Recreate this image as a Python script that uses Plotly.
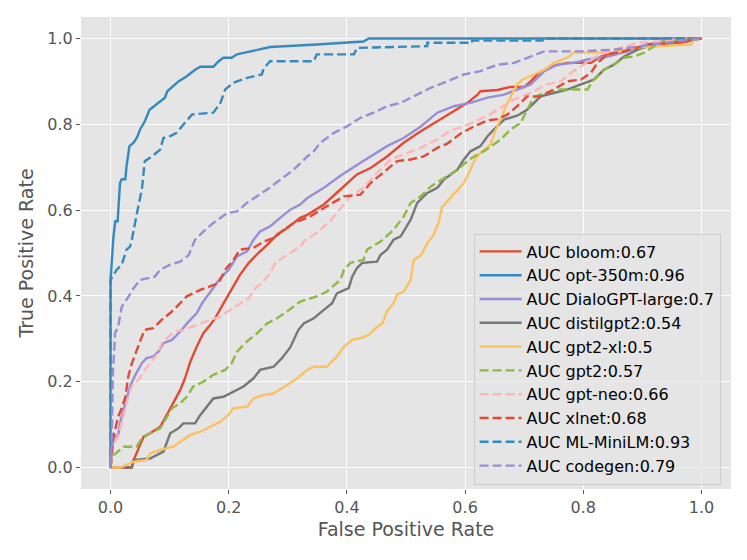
import plotly.graph_objects as go

# ROC curves (false positive rate, true positive rate)
models = ["bloom", "opt-350m", "DialoGPT-large", "distilgpt2", "gpt2-xl",
          "gpt2", "gpt-neo", "xlnet", "ML-MiniLM", "codegen"]
auc_values = [0.67, 0.96, 0.7, 0.54, 0.5, 0.57, 0.66, 0.68, 0.93, 0.79]

fpr_bloom = [0, 0.036, 0.039, 0.047, 0.056, 0.067, 0.084, 0.095, 0.104, 0.118, 0.126, 0.135,
             0.146, 0.157, 0.169, 0.177, 0.188, 0.200, 0.211, 0.219, 0.234, 0.250, 0.265, 0.282,
             0.299, 0.321, 0.333, 0.361, 0.389, 0.417, 0.440, 0.468, 0.496, 0.525, 0.553, 0.581,
             0.604, 0.621, 0.626, 0.655, 0.677, 0.700, 0.711, 0.725, 0.745, 0.773, 0.813, 0.830,
             0.852, 0.886, 0.920, 0.965, 1.0]
tpr_bloom = [0, 0, 0.0175, 0.045, 0.072, 0.080, 0.095, 0.1225, 0.146, 0.181, 0.208, 0.247,
             0.282, 0.313, 0.333, 0.348, 0.375, 0.403, 0.430, 0.449, 0.477, 0.500, 0.519, 0.543,
             0.558, 0.582, 0.589, 0.613, 0.648, 0.683, 0.698, 0.725, 0.757, 0.784, 0.807, 0.830,
             0.850, 0.869, 0.877, 0.880, 0.887, 0.887, 0.900, 0.920, 0.935, 0.943, 0.943, 0.958,
             0.967, 0.978, 0.986, 0.990, 1.0]

fpr_opt = [0, 0, 0.005, 0.008, 0.012, 0.016, 0.019, 0.025, 0.027, 0.032, 0.039, 0.045, 0.050,
           0.058, 0.066, 0.078, 0.092, 0.096, 0.105, 0.115, 0.129, 0.143, 0.152, 0.174, 0.183,
           0.191, 0.205, 0.214, 0.231, 0.248, 0.270, 0.349, 0.428, 0.437, 1.0]
tpr_opt = [0, 0.437, 0.539, 0.574, 0.574, 0.663, 0.672, 0.672, 0.702, 0.749, 0.757, 0.770, 0.788,
           0.807, 0.834, 0.846, 0.862, 0.877, 0.889, 0.900, 0.912, 0.927, 0.934, 0.934, 0.947,
           0.955, 0.955, 0.963, 0.968, 0.9725, 0.980, 0.986, 0.993, 1.0, 1.0]

fpr_dialo = [0, 0.005, 0.013, 0.016, 0.025, 0.033, 0.042, 0.053, 0.061, 0.0725, 0.081, 0.0895,
             0.104, 0.118, 0.132, 0.146, 0.155, 0.169, 0.186, 0.200, 0.214, 0.231, 0.242, 0.253,
             0.270, 0.287, 0.304, 0.321, 0.333, 0.361, 0.389, 0.417, 0.440, 0.468, 0.496, 0.525,
             0.553, 0.581, 0.609, 0.638, 0.666, 0.688, 0.711, 0.734, 0.756, 0.784, 0.807, 0.841,
             0.875, 0.909, 0.948, 1.0]
tpr_dialo = [0, 0.072, 0.075, 0.103, 0.150, 0.189, 0.216, 0.243, 0.255, 0.259, 0.270, 0.290,
             0.2975, 0.317, 0.340, 0.360, 0.383, 0.410, 0.4415, 0.461, 0.492, 0.504, 0.531, 0.550,
             0.562, 0.582, 0.601, 0.613, 0.628, 0.652, 0.680, 0.705, 0.725, 0.749, 0.768, 0.795,
             0.827, 0.842, 0.850, 0.862, 0.869, 0.881, 0.893, 0.924, 0.939, 0.943, 0.951, 0.958,
             0.970, 0.986, 0.998, 1.0]

fpr_distil = [0, 0.036, 0.039, 0.067, 0.078, 0.0895, 0.101, 0.115, 0.123, 0.143, 0.152, 0.163,
              0.174, 0.191, 0.208, 0.225, 0.242, 0.253, 0.276, 0.290, 0.304, 0.318, 0.327, 0.344,
              0.361, 0.375, 0.383, 0.403, 0.409, 0.417, 0.426, 0.451, 0.457, 0.468, 0.479, 0.491,
              0.508, 0.519, 0.536, 0.553, 0.564, 0.587, 0.598, 0.609, 0.626, 0.638, 0.649, 0.666,
              0.688, 0.705, 0.728, 0.750, 0.773, 0.796, 0.818, 0.835, 0.852, 0.869, 0.892, 0.920,
              0.960, 1.0]
tpr_distil = [0, 0, 0.0175, 0.021, 0.029, 0.037, 0.080, 0.0915, 0.103, 0.103, 0.1225, 0.142,
              0.161, 0.165, 0.177, 0.189, 0.208, 0.2275, 0.235, 0.255, 0.280, 0.321, 0.336, 0.348,
              0.3675, 0.383, 0.406, 0.418, 0.445, 0.465, 0.477, 0.480, 0.496, 0.508, 0.531, 0.539,
              0.578, 0.617, 0.640, 0.652, 0.671, 0.694, 0.718, 0.737, 0.749, 0.772, 0.788, 0.811,
              0.820, 0.834, 0.865, 0.873, 0.881, 0.893, 0.904, 0.927, 0.939, 0.958, 0.974, 0.986,
              0.993, 1.0]

fpr_xl = [0, 0.017, 0.039, 0.061, 0.067, 0.084, 0.106, 0.118, 0.135, 0.152, 0.169, 0.186, 0.197,
          0.208, 0.231, 0.242, 0.259, 0.276, 0.299, 0.316, 0.333, 0.344, 0.366, 0.372, 0.383,
          0.395, 0.409, 0.423, 0.437, 0.448, 0.460, 0.468, 0.479, 0.485, 0.496, 0.508, 0.513,
          0.525, 0.536, 0.547, 0.556, 0.561, 0.575, 0.587, 0.598, 0.609, 0.618, 0.626, 0.643,
          0.652, 0.660, 0.669, 0.677, 0.688, 0.697, 0.716, 0.734, 0.750, 0.773, 0.784, 0.852,
          0.886, 0.920, 0.982, 0.988, 1.0]
tpr_xl = [0, 0, 0.0135, 0.0175, 0.033, 0.041, 0.0485, 0.060, 0.076, 0.0835, 0.095, 0.107, 0.119,
          0.138, 0.142, 0.161, 0.169, 0.173, 0.1925, 0.208, 0.2275, 0.235, 0.235, 0.243, 0.259,
          0.282, 0.2975, 0.3015, 0.309, 0.325, 0.336, 0.364, 0.383, 0.403, 0.410, 0.4375, 0.484,
          0.494, 0.523, 0.543, 0.575, 0.607, 0.628, 0.648, 0.663, 0.694, 0.722, 0.733, 0.753,
          0.788, 0.811, 0.842, 0.865, 0.893, 0.904, 0.916, 0.927, 0.943, 0.955, 0.967, 0.967,
          0.978, 0.982, 0.986, 0.998, 1.0]

fpr_gpt2 = [0, 0.002, 0.022, 0.044, 0.053, 0.067, 0.084, 0.095, 0.104, 0.118, 0.129, 0.140,
            0.157, 0.174, 0.194, 0.205, 0.214, 0.231, 0.248, 0.265, 0.282, 0.299, 0.321, 0.349,
            0.366, 0.389, 0.395, 0.406, 0.428, 0.434, 0.457, 0.479, 0.496, 0.508, 0.525, 0.542,
            0.564, 0.587, 0.604, 0.615, 0.632, 0.660, 0.677, 0.694, 0.705, 0.716, 0.734, 0.762,
            0.807, 0.818, 0.835, 0.852, 0.869, 0.886, 0.903, 0.920, 0.937, 0.970, 1.0]
tpr_gpt2 = [0, 0.025, 0.0485, 0.0485, 0.068, 0.080, 0.0915, 0.119, 0.138, 0.150, 0.165, 0.189,
            0.200, 0.216, 0.2275, 0.243, 0.270, 0.294, 0.313, 0.336, 0.348, 0.364, 0.387, 0.399,
            0.410, 0.4375, 0.461, 0.477, 0.484, 0.508, 0.527, 0.554, 0.585, 0.617, 0.632, 0.655,
            0.675, 0.694, 0.714, 0.725, 0.737, 0.764, 0.788, 0.803, 0.834, 0.862, 0.873, 0.881,
            0.881, 0.904, 0.927, 0.939, 0.955, 0.958, 0.967, 0.982, 0.993, 0.998, 1.0]

fpr_neo = [0, 0.005, 0.013, 0.019, 0.027, 0.036, 0.047, 0.058, 0.070, 0.078, 0.087, 0.098,
           0.109, 0.126, 0.146, 0.169, 0.186, 0.203, 0.219, 0.234, 0.245, 0.259, 0.270, 0.279,
           0.299, 0.321, 0.327, 0.349, 0.372, 0.406, 0.428, 0.451, 0.474, 0.496, 0.525, 0.553,
           0.575, 0.598, 0.615, 0.638, 0.655, 0.683, 0.711, 0.739, 0.762, 0.779, 0.796, 0.813,
           0.835, 0.864, 0.892, 0.926, 0.965, 1.0]
tpr_neo = [0, 0.056, 0.072, 0.103, 0.150, 0.189, 0.204, 0.2275, 0.247, 0.2625, 0.290, 0.305,
           0.317, 0.321, 0.333, 0.344, 0.352, 0.368, 0.383, 0.395, 0.418, 0.434, 0.453, 0.477,
           0.496, 0.515, 0.527, 0.547, 0.575, 0.632, 0.652, 0.687, 0.718, 0.729, 0.745, 0.765,
           0.785, 0.795, 0.805, 0.820, 0.834, 0.858, 0.873, 0.893, 0.900, 0.920, 0.935, 0.951,
           0.967, 0.978, 0.990, 0.993, 0.998, 1.0]

fpr_xlnet = [0, 0.005, 0.013, 0.019, 0.025, 0.030, 0.036, 0.044, 0.053, 0.058, 0.0725, 0.0895,
             0.101, 0.115, 0.129, 0.152, 0.169, 0.183, 0.194, 0.208, 0.219, 0.242, 0.259, 0.276,
             0.293, 0.310, 0.338, 0.361, 0.395, 0.423, 0.440, 0.462, 0.485, 0.508, 0.530, 0.553,
             0.570, 0.592, 0.615, 0.638, 0.655, 0.672, 0.688, 0.705, 0.728, 0.750, 0.773, 0.796,
             0.813, 0.824, 0.841, 0.869, 0.909, 0.954, 0.982, 1.0]
tpr_xlnet = [0, 0.072, 0.119, 0.138, 0.165, 0.212, 0.243, 0.274, 0.305, 0.321, 0.325, 0.348,
             0.360, 0.379, 0.399, 0.414, 0.422, 0.430, 0.461, 0.484, 0.508, 0.512, 0.527, 0.535,
             0.554, 0.570, 0.585, 0.605, 0.632, 0.636, 0.663, 0.687, 0.714, 0.718, 0.725, 0.745,
             0.755, 0.778, 0.795, 0.809, 0.812, 0.823, 0.842, 0.865, 0.865, 0.881, 0.900, 0.904,
             0.920, 0.943, 0.963, 0.970, 0.986, 0.990, 0.998, 1.0]

fpr_minilm = [0, 0, 0.005, 0.0105, 0.019, 0.027, 0.033, 0.036, 0.047, 0.053, 0.058, 0.070, 0.084,
              0.0895, 0.100, 0.112, 0.123, 0.138, 0.174, 0.186, 0.194, 0.208, 0.231, 0.256, 0.259,
              0.270, 0.344, 0.349, 0.412, 0.417, 0.536, 0.536, 0.612, 0.612, 0.731, 0.731, 1.0]
tpr_minilm = [0, 0.437, 0.449, 0.461, 0.473, 0.508, 0.515, 0.531, 0.609, 0.648, 0.714, 0.725,
              0.741, 0.768, 0.772, 0.780, 0.799, 0.823, 0.827, 0.850, 0.881, 0.897, 0.908, 0.916,
              0.930, 0.947, 0.947, 0.963, 0.963, 0.978, 0.982, 0.990, 0.990, 0.995, 0.995, 1.0, 1.0]

fpr_codegen = [0, 0.002, 0.004, 0.0076, 0.013, 0.019, 0.027, 0.039, 0.050, 0.061, 0.075, 0.084,
               0.101, 0.118, 0.132, 0.143, 0.157, 0.174, 0.197, 0.214, 0.231, 0.265, 0.287, 0.310,
               0.333, 0.344, 0.355, 0.378, 0.400, 0.423, 0.445, 0.468, 0.491, 0.513, 0.542, 0.570,
               0.598, 0.626, 0.655, 0.683, 0.711, 0.734, 0.796, 0.852, 0.897, 0.937, 0.977, 1.0]
tpr_codegen = [0, 0.064, 0.220, 0.313, 0.329, 0.375, 0.391, 0.418, 0.4375, 0.4415, 0.445, 0.461,
               0.473, 0.480, 0.495, 0.531, 0.550, 0.570, 0.593, 0.597, 0.617, 0.648, 0.671, 0.694,
               0.725, 0.737, 0.757, 0.780, 0.795, 0.815, 0.827, 0.842, 0.850, 0.865, 0.885, 0.900,
               0.916, 0.924, 0.939, 0.943, 0.958, 0.970, 0.970, 0.974, 0.982, 0.990, 0.997, 1.0]

curves = [
    (fpr_bloom, tpr_bloom), (fpr_opt, tpr_opt), (fpr_dialo, tpr_dialo),
    (fpr_distil, tpr_distil), (fpr_xl, tpr_xl), (fpr_gpt2, tpr_gpt2),
    (fpr_neo, tpr_neo), (fpr_xlnet, tpr_xlnet), (fpr_minilm, tpr_minilm),
    (fpr_codegen, tpr_codegen),
]

# ggplot colour cycle, first five solid then dashed
colors = ["#E24A33", "#348ABD", "#988ED5", "#777777", "#FBC15E",
          "#8EBA42", "#FFB5B8", "#E24A33", "#348ABD", "#988ED5"]
dashes = ["solid"] * 5 + ["9px,4px"] * 5

fig = go.Figure()
for name, auc, (fpr, tpr), col, dash in zip(models, auc_values, curves, colors, dashes):
    fig.add_trace(go.Scatter(
        x=fpr, y=tpr, mode="lines",
        name=f"AUC {name}:{auc}",
        line=dict(color=col, width=2.4, dash=dash),
    ))

axis_style = dict(
    range=[-0.05, 1.05],
    tickvals=[0, 0.2, 0.4, 0.6, 0.8, 1.0],
    tickformat=".1f",
    showgrid=True, gridcolor="white", gridwidth=1.3,
    zeroline=False, showline=False, automargin=False,
    ticks="outside", ticklen=4, tickwidth=1, tickcolor="#555555",
    tickfont=dict(size=16, color="#555555"),
)

# the page body adds an 8px offset, so the figure is 8px smaller each way
fig.update_layout(
    width=739, height=552,
    margin=dict(l=73, r=16, t=9, b=71),
    paper_bgcolor="white", plot_bgcolor="#E5E5E5",
    font=dict(family="DejaVu Sans", color="#555555"),
    xaxis=dict(axis_style, title=dict(text="False Positive Rate",
                                      font=dict(size=19, color="#555555"), standoff=6)),
    yaxis=dict(axis_style, title=dict(text="True Positive Rate",
                                      font=dict(size=19, color="#555555"), standoff=8)),
    legend=dict(
        x=0.984, y=0.0095, xanchor="right", yanchor="bottom",
        bgcolor="rgba(229,229,229,0.8)", bordercolor="#CCCCCC", borderwidth=1,
        font=dict(size=16, color="black", family="DejaVu Sans"),
        tracegroupgap=0, itemwidth=42,
    ),
    showlegend=True,
)

fig.write_html("out.html")
